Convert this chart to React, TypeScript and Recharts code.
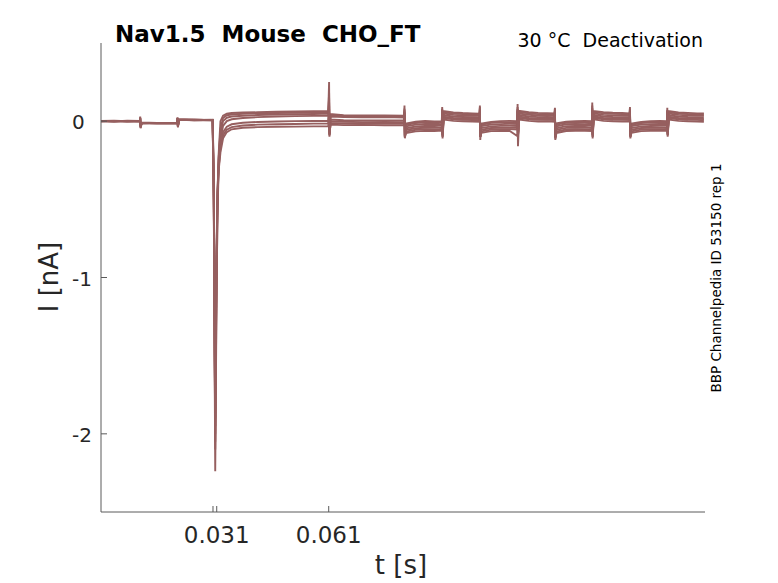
import React from "react";
import { LineChart, Line, XAxis, YAxis } from "recharts";

// time samples [s]
const timeS = [
  0.0, 0.0035, 0.007, 0.0104, 0.0105, 0.0106, 0.0109, 0.015,
  0.0204, 0.0205, 0.0206, 0.0209, 0.025, 0.0299,
  0.0302, 0.0306, 0.0309, 0.0312, 0.0315, 0.032, 0.0327, 0.0337, 0.035, 0.038, 0.042, 0.047, 0.052, 0.057, 0.0609,
  0.0611, 0.0612, 0.0615, 0.065, 0.07, 0.076, 0.0812,
  0.0813, 0.0814, 0.0817, 0.0843, 0.0868, 0.0893, 0.0913,
  0.0914, 0.0915, 0.0918, 0.0944, 0.0969, 0.0994, 0.1014,
  0.1015, 0.1016, 0.1019, 0.1045, 0.107, 0.1095, 0.1115,
  0.1116, 0.1117, 0.112, 0.1146, 0.1171, 0.1196, 0.1215,
  0.1216, 0.1217, 0.122, 0.1246, 0.1271, 0.1296, 0.1315,
  0.1316, 0.1317, 0.132, 0.1346, 0.1371, 0.1396, 0.1416,
  0.1417, 0.1418, 0.1421, 0.1447, 0.1472, 0.1497, 0.1516,
  0.1517, 0.1518, 0.1521, 0.1547, 0.1572, 0.1597, 0.1615,
];

// current traces [nA]
const trace1 = [
  0.002, -0.002, 0.003, 0.001, 0.03, -0.04, -0.008, -0.011,
  -0.01, 0.022, -0.035, 0.012, 0.009, 0.007,
  -0.5, -2.24, -1.3, -0.55, -0.22, 0.0, 0.035, 0.048, 0.052, 0.055, 0.057, 0.06, 0.062, 0.064, 0.066,
  0.25, -0.06, 0.045, 0.038, 0.036, 0.037, 0.035,
  0.1, -0.11, -0.015, -0.004, 0.001, -0.002, 0.0,
  0.09, -0.1, 0.064, 0.056, 0.052, 0.05, 0.048,
  0.1, -0.12, -0.016, -0.005, 0.0, 0.002, -0.001,
  0.11, -0.09, 0.066, 0.057, 0.053, 0.051, 0.05,
  0.085, -0.1, -0.014, -0.004, -0.001, 0.001, 0.0,
  0.12, -0.09, 0.065, 0.058, 0.054, 0.052, 0.05,
  0.09, -0.1, -0.015, -0.005, 0.0, 0.001, -0.001,
  0.085, -0.09, 0.064, 0.056, 0.053, 0.05, 0.049,
];
const trace2 = [
  -0.002, 0.001, -0.003, 0.0, 0.02, -0.03, -0.01, -0.013,
  -0.012, 0.018, -0.03, 0.01, 0.006, 0.009,
  -0.4, -2.05, -1.1, -0.5, -0.25, -0.05, 0.02, 0.038, 0.043, 0.047, 0.05, 0.052, 0.054, 0.056, 0.058,
  0.18, -0.07, 0.038, 0.033, 0.031, 0.034, 0.032,
  0.08, -0.1, -0.024, -0.012, -0.008, -0.009, -0.007,
  0.08, -0.09, 0.057, 0.049, 0.046, 0.044, 0.043,
  0.09, -0.1, -0.023, -0.011, -0.008, -0.007, -0.009,
  0.09, -0.1, 0.058, 0.05, 0.045, 0.046, 0.044,
  0.08, -0.11, -0.022, -0.01, -0.009, -0.007, -0.008,
  0.1, -0.1, 0.058, 0.05, 0.047, 0.045, 0.044,
  0.08, -0.09, -0.023, -0.012, -0.008, -0.009, -0.008,
  0.07, -0.08, 0.056, 0.049, 0.046, 0.045, 0.043,
];
const trace3 = [
  0.001, 0.003, 0.0, -0.002, 0.025, -0.045, -0.013, -0.012,
  -0.014, 0.025, -0.04, 0.011, 0.008, 0.006,
  -0.45, -1.95, -1.0, -0.45, -0.25, -0.08, 0.0, 0.022, 0.03, 0.035, 0.039, 0.042, 0.044, 0.046, 0.048,
  0.15, -0.08, 0.03, 0.027, 0.025, 0.026, 0.024,
  0.07, -0.09, -0.033, -0.022, -0.018, -0.017, -0.019,
  0.075, -0.08, 0.048, 0.04, 0.037, 0.035, 0.034,
  0.08, -0.09, -0.032, -0.021, -0.019, -0.017, -0.018,
  0.08, -0.085, 0.049, 0.041, 0.036, 0.037, 0.035,
  0.07, -0.1, -0.033, -0.02, -0.018, -0.019, -0.017,
  0.085, -0.08, 0.05, 0.04, 0.037, 0.036, 0.035,
  0.075, -0.085, -0.032, -0.021, -0.019, -0.018, -0.017,
  0.07, -0.075, 0.048, 0.04, 0.037, 0.036, 0.034,
];
const trace4 = [
  0.0, -0.001, 0.002, 0.002, 0.018, -0.035, -0.011, -0.012,
  -0.011, 0.02, -0.035, 0.009, 0.007, 0.008,
  -0.3, -2.1, -1.2, -0.6, -0.32, -0.12, -0.03, 0.0, 0.012, 0.02, 0.026, 0.03, 0.032, 0.034, 0.036,
  0.12, -0.09, 0.01, 0.006, 0.004, 0.005, 0.004,
  0.06, -0.1, -0.045, -0.034, -0.03, -0.031, -0.029,
  0.07, -0.09, 0.038, 0.03, 0.027, 0.025, 0.024,
  0.07, -0.1, -0.044, -0.033, -0.03, -0.029, -0.031,
  0.075, -0.09, 0.039, 0.03, 0.026, 0.027, 0.025,
  0.065, -0.1, -0.045, -0.032, -0.03, -0.031, -0.029,
  0.08, -0.085, 0.04, 0.03, 0.027, 0.026, 0.025,
  0.065, -0.095, -0.044, -0.033, -0.031, -0.03, -0.029,
  0.065, -0.08, 0.038, 0.03, 0.027, 0.026, 0.024,
];
const trace5 = [
  -0.001, 0.002, -0.002, 0.001, 0.015, -0.03, -0.012, -0.014,
  -0.013, 0.015, -0.03, 0.01, 0.009, 0.007,
  -0.45, -1.85, -0.9, -0.45, -0.28, -0.14, -0.07, -0.035, -0.02, -0.01, -0.005, -0.002, 0.0, 0.001, 0.002,
  0.1, -0.1, -0.001, -0.004, -0.006, -0.005, -0.006,
  0.055, -0.095, -0.056, -0.045, -0.042, -0.041, -0.043,
  0.065, -0.09, 0.028, 0.02, 0.017, 0.015, 0.014,
  0.06, -0.095, -0.055, -0.044, -0.042, -0.043, -0.041,
  0.07, -0.095, 0.029, 0.02, 0.016, 0.017, 0.015,
  0.06, -0.1, -0.056, -0.043, -0.042, -0.041, -0.043,
  0.07, -0.09, 0.03, 0.02, 0.017, 0.016, 0.015,
  0.06, -0.09, -0.055, -0.044, -0.042, -0.041, -0.043,
  0.06, -0.085, 0.028, 0.02, 0.017, 0.016, 0.014,
];
const trace6 = [
  0.001, -0.003, 0.001, -0.001, 0.02, -0.04, -0.013, -0.011,
  -0.012, 0.02, -0.035, 0.007, 0.009, 0.008,
  -0.35, -2.0, -1.05, -0.5, -0.3, -0.17, -0.09, -0.055, -0.038, -0.028, -0.022, -0.02, -0.018, -0.016, -0.015,
  0.08, -0.09, -0.012, -0.015, -0.014, -0.016, -0.015,
  0.05, -0.1, -0.066, -0.055, -0.052, -0.053, -0.051,
  0.06, -0.1, 0.02, 0.012, 0.009, 0.007, 0.006,
  0.055, -0.1, -0.065, -0.054, -0.052, -0.051, -0.053,
  0.065, -0.1, 0.021, 0.012, 0.008, 0.009, 0.007,
  0.055, -0.11, -0.066, -0.053, -0.052, -0.053, -0.051,
  0.065, -0.1, 0.022, 0.012, 0.009, 0.008, 0.007,
  0.055, -0.1, -0.065, -0.054, -0.052, -0.051, -0.052,
  0.055, -0.09, 0.02, 0.012, 0.009, 0.008, 0.006,
];
const trace7 = [
  0.0, 0.001, 0.0, 0.002, 0.017, -0.035, -0.01, -0.013,
  -0.012, 0.017, -0.032, 0.008, 0.006, 0.007,
  -0.5, -1.9, -0.95, -0.5, -0.32, -0.2, -0.11, -0.07, -0.052, -0.042, -0.038, -0.036, -0.035, -0.033, -0.032,
  0.06, -0.08, -0.022, -0.025, -0.024, -0.026, -0.025,
  0.04, -0.105, -0.076, -0.065, -0.062, -0.063, -0.061,
  0.055, -0.11, 0.01, 0.002, -0.001, -0.003, -0.004,
  0.05, -0.1, -0.075, -0.064, -0.062, -0.063, -0.095,
  0.06, -0.16, 0.011, 0.002, -0.002, -0.001, -0.003,
  0.05, -0.12, -0.076, -0.063, -0.062, -0.061, -0.063,
  0.06, -0.11, 0.012, 0.002, -0.001, -0.002, -0.003,
  0.05, -0.11, -0.075, -0.064, -0.062, -0.061, -0.062,
  0.05, -0.1, 0.01, 0.002, -0.001, -0.002, -0.004,
];

const traces = [trace1, trace2, trace3, trace4, trace5, trace6, trace7];
const xTicks = [0.03, 0.031, 0.061];
const xTickLabels: Record<string, string> = { "0.03": "", "0.031": "0.031", "0.061": "0.061" };
const yTicks = [-2, -1, 0];

const rows = timeS.map((t, i) => {
  const r: Record<string, number> = { t };
  traces.forEach((tr, k) => {
    r["s" + k] = tr[i];
  });
  return r;
});

const FONT = "'DejaVu Sans', sans-serif";
const TRACE = "#965f5f";
const AXIS = "#5a5a5a";

const XTick = (props: any) => {
  const { x, y, payload } = props;
  const label = xTickLabels[String(payload.value)] ?? String(payload.value);
  return (
    <g>
      <line x1={x} y1={y} x2={x} y2={y - 6} stroke={AXIS} strokeWidth={1} />
      <text x={x} y={y + 31} textAnchor="middle" fontSize={23} fill="#262626" fontFamily={FONT}>
        {label}
      </text>
    </g>
  );
};

const YTick = (props: any) => {
  const { x, y, payload } = props;
  return (
    <g>
      <line x1={x} y1={y} x2={x + 6} y2={y} stroke={AXIS} strokeWidth={1} />
      <text x={72} y={y + 8} textAnchor="start" fontSize={20} fill="#262626" fontFamily={FONT}>
        {String(payload.value)}
      </text>
    </g>
  );
};

export default function App() {
  return (
    <div style={{ position: "absolute", left: 0, top: 0, width: 778, height: 583, background: "#fff" }}>
      <LineChart
        width={778}
        height={583}
        data={rows}
        margin={{ top: 43, right: 73, bottom: 11, left: 41 }}
      >
        <XAxis
          dataKey="t"
          type="number"
          domain={[0, 0.1618]}
          ticks={xTicks}
          allowDataOverflow
          height={60}
          tickSize={0}
          tickMargin={0}
          tickLine={false}
          tick={<XTick />}
          axisLine={{ stroke: AXIS, strokeWidth: 1 }}
          interval={0}
        />
        <YAxis
          type="number"
          domain={[-2.5, 0.5]}
          ticks={yTicks}
          allowDataOverflow
          width={60}
          tickSize={0}
          tickMargin={0}
          tickLine={false}
          tick={<YTick />}
          axisLine={{ stroke: AXIS, strokeWidth: 1 }}
          interval={0}
        />
        {traces.map((_, k) => (
          <Line
            key={k}
            dataKey={"s" + k}
            type="linear"
            stroke={TRACE}
            strokeWidth={1.9}
            dot={false}
            activeDot={false}
            isAnimationActive={false}
          />
        ))}
      </LineChart>
      <svg
        width={778}
        height={583}
        style={{ position: "absolute", left: 0, top: 0, pointerEvents: "none" }}
      >
        <text x={115} y={42} fontSize={23} fontWeight="bold" fill="#000" fontFamily={FONT} style={{ whiteSpace: "pre" }}>
          {"Nav1.5  Mouse  CHO_FT"}
        </text>
        <text x={703} y={47} textAnchor="end" fontSize={19} fill="#000" fontFamily={FONT} style={{ whiteSpace: "pre" }}>
          {"30 °C  Deactivation"}
        </text>
        <text x={401} y={574} textAnchor="middle" fontSize={26} fill="#262626" fontFamily={FONT}>
          t [s]
        </text>
        <text
          x={0}
          y={0}
          transform="translate(58,277) rotate(-90)"
          textAnchor="middle"
          fontSize={26}
          fill="#262626"
          fontFamily={FONT}
        >
          I [nA]
        </text>
        <text
          x={0}
          y={0}
          transform="translate(721,278) rotate(-90)"
          textAnchor="middle"
          fontSize={13.5}
          fill="#000"
          fontFamily={FONT}
        >
          BBP Channelpedia ID 53150 rep 1
        </text>
      </svg>
    </div>
  );
}
